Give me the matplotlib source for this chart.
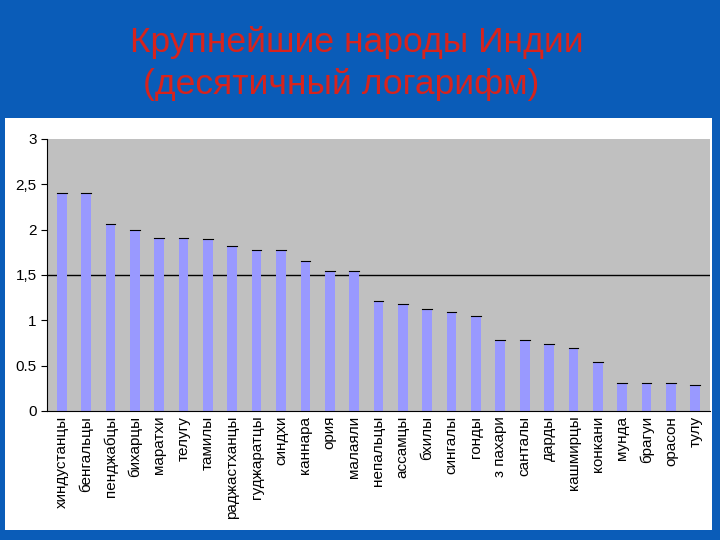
import matplotlib
matplotlib.use("Agg")
import matplotlib.pyplot as plt

plt.rcParams['font.family'] = ['Liberation Sans', 'DejaVu Sans']

peoples = ["хиндустанцы", "бенгальцы", "пенджабцы", "бихарцы", "маратхи", "телугу",
           "тамилы", "раджастханцы", "гуджаратцы", "синдхи", "каннара", "ория",
           "малаяли", "непальцы", "ассамцы", "бхилы", "сингалы", "гонды", "з пахари",
           "санталы", "дарды", "кашмирцы", "конкани", "мунда", "брагуи", "орасон", "тулу"]
log_pop = [2.40, 2.40, 2.06, 2.00, 1.91, 1.91, 1.90, 1.82, 1.78, 1.78, 1.65, 1.54,
           1.54, 1.21, 1.18, 1.12, 1.09, 1.05, 0.78, 0.78, 0.74, 0.70, 0.54, 0.31,
           0.31, 0.31, 0.29]

fig = plt.figure(figsize=(7.2, 5.4), dpi=100)
fig.patch.set_facecolor("#0a5cb8")

# white chart box behind the plot
box = fig.add_axes([5 / 720, 10 / 540, 707 / 720, 412 / 540], zorder=0)
box.set_facecolor("white")
box.set_xticks([])
box.set_yticks([])
for s in box.spines.values():
    s.set_visible(False)

fig.text(130 / 720, 0.922, "Крупнейшие народы Индии", color="#d8231c", fontsize=25.5,
         ha="left", va="center")
fig.text(143 / 720, 0.843, "(десятичный логарифм)", color="#d8231c", fontsize=25.5,
         ha="left", va="center")

ax = fig.add_axes([47 / 720, 1 - 411 / 540, 663 / 720, 272 / 540], zorder=1)
ax.set_facecolor("#c0c0c0")
x = range(len(peoples))
ax.bar(x, log_pop, width=0.4, color="#9999ff", edgecolor="none", zorder=2)
for i, v in zip(x, log_pop):
    ax.plot([i - 0.2, i + 0.2], [v, v], color="black", lw=0.8, zorder=3)
ax.axhline(1.5, color="black", lw=1, zorder=1)
ax.set_xlim(-0.6, len(peoples) - 0.4)
ax.set_ylim(0, 3)
ax.set_yticks([0, 0.5, 1, 1.5, 2, 2.5, 3])
ax.set_yticklabels(["0", "0.5", "1", "1,5", "2", "2,5", "3"])
ax.set_xticks(list(x))
ax.set_xticklabels(peoples, rotation=90, fontsize=11)
ax.tick_params(axis="y", labelsize=11, length=4)
ax.tick_params(axis="x", length=0)
for s in ["top", "right"]:
    ax.spines[s].set_visible(False)

fig.savefig("out.png", dpi=100, facecolor=fig.get_facecolor())
